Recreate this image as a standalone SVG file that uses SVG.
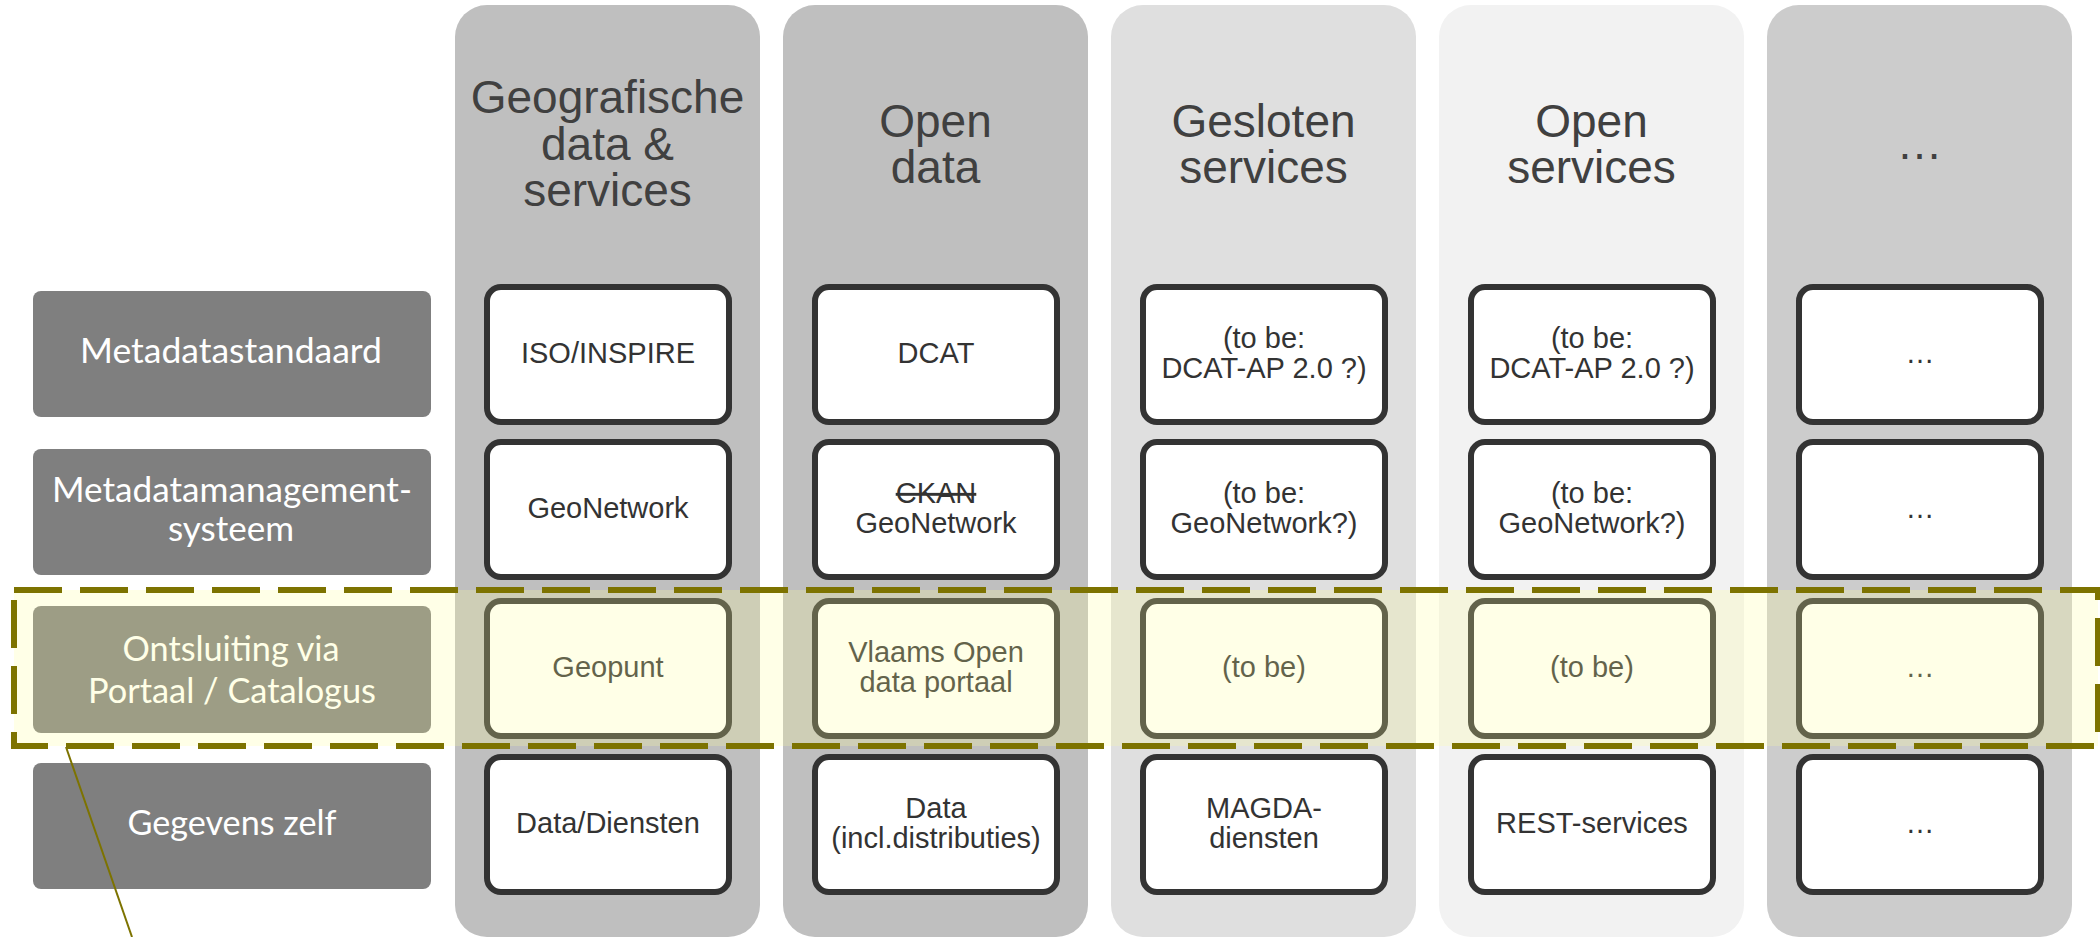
<svg xmlns="http://www.w3.org/2000/svg" width="2100" height="937" viewBox="0 0 2100 937">
<style>
.col{stroke:none}
.hdr{font-family:"Liberation Sans",Arial,sans-serif;font-size:46px;fill:#404040;text-anchor:middle}
.lbl{fill:#7f7f7f}
.lt{font-family:Lato,"Open Sans",sans-serif;font-size:34px;fill:#ffffff;text-anchor:middle}
.box{fill:#ffffff;stroke:#333333;stroke-width:6}
.bt{font-family:"Liberation Sans",Arial,sans-serif;font-size:29px;fill:#333333;text-anchor:middle}
.band{fill:#ffff99;opacity:0.24}
.dash{fill:none;stroke:#7d7300;stroke-width:6;stroke-dasharray:48 18}
.conn{stroke:#7d7300;stroke-width:2;fill:none}
</style>
<rect width="2100" height="937" fill="#ffffff"/>
<g id="col-geo">
<rect class="col" x="455" y="5" width="305" height="932" rx="32" fill="#bfbfbf"/>
<text class="hdr" x="607.5" y="113">Geografische</text>
<text class="hdr" x="607.5" y="160">data &amp;</text>
<text class="hdr" x="607.5" y="206">services</text>
</g>
<g id="col-open-data">
<rect class="col" x="783" y="5" width="305" height="932" rx="32" fill="#bfbfbf"/>
<text class="hdr" x="935.5" y="137">Open</text>
<text class="hdr" x="935.5" y="183">data</text>
</g>
<g id="col-gesloten">
<rect class="col" x="1111" y="5" width="305" height="932" rx="32" fill="#dfdfdf"/>
<text class="hdr" x="1263.5" y="137">Gesloten</text>
<text class="hdr" x="1263.5" y="183">services</text>
</g>
<g id="col-open-services">
<rect class="col" x="1439" y="5" width="305" height="932" rx="32" fill="#f2f2f2"/>
<text class="hdr" x="1591.5" y="137">Open</text>
<text class="hdr" x="1591.5" y="183">services</text>
</g>
<g id="col-more">
<rect class="col" x="1767" y="5" width="305" height="932" rx="32" fill="#cccccc"/>
<text class="hdr" x="1919.5" y="159">…</text>
</g>

<g id="label-metadatastandaard">
<rect class="lbl" x="33" y="291" width="398" height="126" rx="8"/>
<text class="lt" x="231" y="363" textLength="302" lengthAdjust="spacingAndGlyphs">Metadatastandaard</text>
</g>
<g id="label-metadatamanagement">
<rect class="lbl" x="33" y="449" width="398" height="126" rx="8"/>
<text class="lt" x="232" y="502" textLength="360" lengthAdjust="spacingAndGlyphs">Metadatamanagement-</text>
<text class="lt" x="231" y="541" textLength="126" lengthAdjust="spacingAndGlyphs">systeem</text>
</g>
<g id="label-ontsluiting">
<rect class="lbl" x="33" y="606" width="398" height="127" rx="8"/>
<text class="lt" x="231" y="661" textLength="217" lengthAdjust="spacingAndGlyphs">Ontsluiting via</text>
<text class="lt" x="232" y="703" textLength="288" lengthAdjust="spacingAndGlyphs">Portaal / Catalogus</text>
</g>
<g id="label-gegevens">
<rect class="lbl" x="33" y="763" width="398" height="126" rx="8"/>
<text class="lt" x="232" y="835" textLength="209" lengthAdjust="spacingAndGlyphs">Gegevens zelf</text>
</g>

<g id="geo-standaard"><rect class="box" x="487" y="287" width="242" height="135" rx="14"/><text class="bt" x="608" y="363">ISO/INSPIRE</text></g>
<g id="geo-systeem"><rect class="box" x="487" y="442" width="242" height="135" rx="14"/><text class="bt" x="608" y="518">GeoNetwork</text></g>
<g id="geo-portaal"><rect class="box" x="487" y="601" width="242" height="135" rx="14"/><text class="bt" x="608" y="677">Geopunt</text></g>
<g id="geo-gegevens"><rect class="box" x="487" y="757" width="242" height="135" rx="14"/><text class="bt" x="608" y="833">Data/Diensten</text></g>

<g id="od-standaard"><rect class="box" x="815" y="287" width="242" height="135" rx="14"/><text class="bt" x="936" y="363">DCAT</text></g>
<g id="od-systeem"><rect class="box" x="815" y="442" width="242" height="135" rx="14"/><text class="bt" x="936" y="503" text-decoration="line-through">CKAN</text><text class="bt" x="936" y="533">GeoNetwork</text></g>
<g id="od-portaal"><rect class="box" x="815" y="601" width="242" height="135" rx="14"/><text class="bt" x="936" y="662">Vlaams Open</text><text class="bt" x="936" y="692">data portaal</text></g>
<g id="od-gegevens"><rect class="box" x="815" y="757" width="242" height="135" rx="14"/><text class="bt" x="936" y="818">Data</text><text class="bt" x="936" y="848">(incl.distributies)</text></g>

<g id="gs-standaard"><rect class="box" x="1143" y="287" width="242" height="135" rx="14"/><text class="bt" x="1264" y="348">(to be:</text><text class="bt" x="1264" y="378">DCAT-AP 2.0 ?)</text></g>
<g id="gs-systeem"><rect class="box" x="1143" y="442" width="242" height="135" rx="14"/><text class="bt" x="1264" y="503">(to be:</text><text class="bt" x="1264" y="533">GeoNetwork?)</text></g>
<g id="gs-portaal"><rect class="box" x="1143" y="601" width="242" height="135" rx="14"/><text class="bt" x="1264" y="677">(to be)</text></g>
<g id="gs-gegevens"><rect class="box" x="1143" y="757" width="242" height="135" rx="14"/><text class="bt" x="1264" y="818">MAGDA-</text><text class="bt" x="1264" y="848">diensten</text></g>

<g id="os-standaard"><rect class="box" x="1471" y="287" width="242" height="135" rx="14"/><text class="bt" x="1592" y="348">(to be:</text><text class="bt" x="1592" y="378">DCAT-AP 2.0 ?)</text></g>
<g id="os-systeem"><rect class="box" x="1471" y="442" width="242" height="135" rx="14"/><text class="bt" x="1592" y="503">(to be:</text><text class="bt" x="1592" y="533">GeoNetwork?)</text></g>
<g id="os-portaal"><rect class="box" x="1471" y="601" width="242" height="135" rx="14"/><text class="bt" x="1592" y="677">(to be)</text></g>
<g id="os-gegevens"><rect class="box" x="1471" y="757" width="242" height="135" rx="14"/><text class="bt" x="1592" y="833">REST-services</text></g>

<g id="more-standaard"><rect class="box" x="1799" y="287" width="242" height="135" rx="14"/><text class="bt" x="1920" y="363">…</text></g>
<g id="more-systeem"><rect class="box" x="1799" y="442" width="242" height="135" rx="14"/><text class="bt" x="1920" y="518">…</text></g>
<g id="more-portaal"><rect class="box" x="1799" y="601" width="242" height="135" rx="14"/><text class="bt" x="1920" y="677">…</text></g>
<g id="more-gegevens"><rect class="box" x="1799" y="757" width="242" height="135" rx="14"/><text class="bt" x="1920" y="833">…</text></g>

<g id="highlight-band">
<rect class="band" x="14" y="590" width="2084" height="156"/>
<rect class="dash" x="14" y="590" width="2084" height="156"/>
</g>
<g id="connectors">
<line class="conn" x1="66" y1="747" x2="132" y2="937"/>
</g>
</svg>
